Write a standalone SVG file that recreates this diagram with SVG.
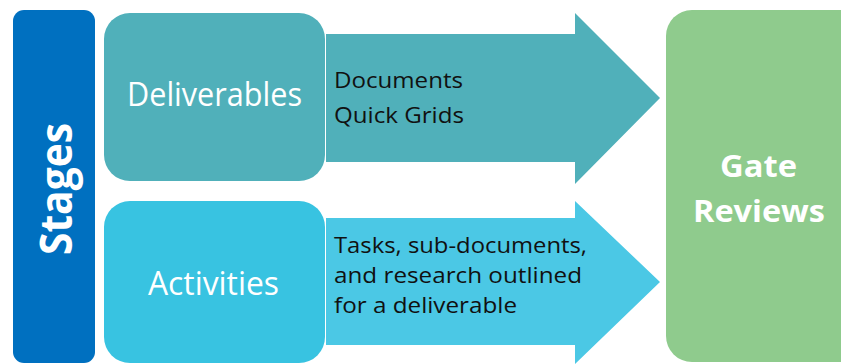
<svg xmlns="http://www.w3.org/2000/svg" width="841" height="364" viewBox="0 0 841 364">
<style>
.w{fill:#ffffff;font-family:"Open Sans","Noto Sans",sans-serif}
.b{font-weight:bold}
.k{fill:#111111;font-family:"Open Sans","Noto Sans",sans-serif;font-size:22.5px}
</style>
<rect x="0" y="0" width="841" height="364" fill="#ffffff"/>
<g id="connectors">
  <g id="arrow-deliverables">
    <polygon points="326,34 575,34 575,13 660,98 575,184 575,162 326,162" fill="#50B0BA"/>
    <text class="k" x="334" y="88" textLength="129" lengthAdjust="spacingAndGlyphs">Documents</text>
    <text class="k" x="334" y="123" textLength="130" lengthAdjust="spacingAndGlyphs">Quick Grids</text>
  </g>
  <g id="arrow-activities">
    <polygon points="326,218 575,218 575,201 660,282 575,364 575,345 326,345" fill="#4BC8E5"/>
    <text class="k" x="334" y="253" textLength="253" lengthAdjust="spacingAndGlyphs">Tasks, sub-documents,</text>
    <text class="k" x="334" y="283" textLength="248" lengthAdjust="spacingAndGlyphs">and research outlined</text>
    <text class="k" x="334" y="313" textLength="183" lengthAdjust="spacingAndGlyphs">for a deliverable</text>
  </g>
</g>
<g id="stages">
  <rect x="13" y="10" width="82" height="353" rx="11" fill="#0070C0"/>
  <text class="w b" transform="translate(72,189) rotate(-90)" text-anchor="middle" font-size="44" textLength="132" lengthAdjust="spacingAndGlyphs">Stages</text>
</g>
<g id="deliverables">
  <rect x="104" y="13" width="221" height="168" rx="26" fill="#50B0BA"/>
  <text class="w" x="214.5" y="106" text-anchor="middle" font-size="32" textLength="175" lengthAdjust="spacingAndGlyphs">Deliverables</text>
</g>
<g id="activities">
  <rect x="104" y="201" width="221" height="162" rx="26" fill="#38C3E1"/>
  <text class="w" x="213.5" y="295" text-anchor="middle" font-size="32" textLength="131" lengthAdjust="spacingAndGlyphs">Activities</text>
</g>
<g id="gate-reviews">
  <rect x="666" y="10" width="200" height="352" rx="26" fill="#8FCB8D"/>
  <text class="w b" x="758.5" y="177" text-anchor="middle" font-size="31" textLength="77" lengthAdjust="spacingAndGlyphs">Gate</text>
  <text class="w b" x="759" y="222" text-anchor="middle" font-size="31" textLength="132" lengthAdjust="spacingAndGlyphs">Reviews</text>
</g>
</svg>
